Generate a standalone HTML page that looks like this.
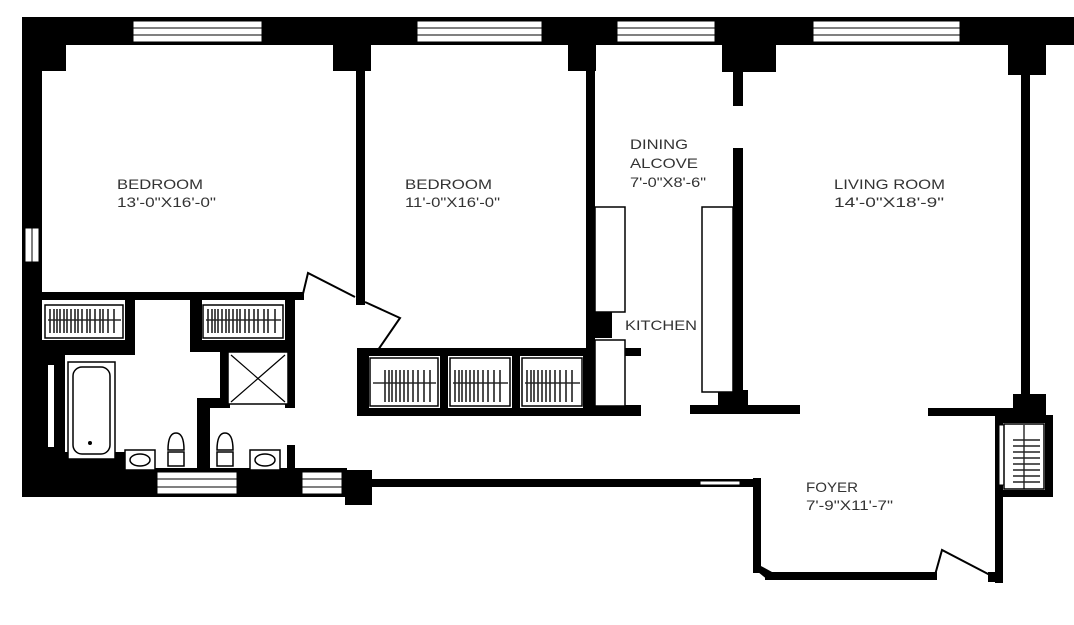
<!DOCTYPE html>
<html><head><meta charset="utf-8"><style>
html,body{margin:0;padding:0;background:#fff;width:1074px;height:625px;overflow:hidden}
text{font-family:"Liberation Sans",sans-serif;font-size:14px;fill:#333}
</style></head><body>
<svg width="1074" height="625" viewBox="0 0 1074 625" xmlns="http://www.w3.org/2000/svg">
<g fill="#000">
<rect x="22" y="17" width="1052" height="28"/>
<rect x="22" y="17" width="20" height="480"/>
<rect x="22" y="468" width="325" height="29"/>
<rect x="345" y="470" width="27" height="35"/>
<rect x="370" y="479" width="385" height="8"/>
<rect x="22" y="45" width="44" height="26"/>
<rect x="333" y="45" width="38" height="26"/>
<rect x="568" y="45" width="28" height="26"/>
<rect x="722" y="45" width="54" height="27"/>
<rect x="733" y="70" width="10" height="36"/>
<rect x="1008" y="45" width="38" height="30"/>
<rect x="356" y="70" width="9" height="235"/>
<rect x="586" y="70" width="9" height="340"/>
<rect x="733" y="148" width="10" height="248"/>
<rect x="1021" y="75" width="9" height="322"/>
<rect x="1013" y="394" width="33" height="22"/>
<rect x="718" y="390" width="30" height="22"/>
<rect x="690" y="405" width="110" height="9"/>
<rect x="928" y="408" width="102" height="8"/>
<rect x="586" y="405" width="55" height="10"/>
<rect x="22" y="292" width="282" height="8"/>
<rect x="357" y="348" width="284" height="8"/>
<rect x="357" y="348" width="12" height="68"/>
<rect x="357" y="408" width="284" height="8"/>
<rect x="440" y="348" width="8" height="68"/>
<rect x="512" y="348" width="8" height="68"/>
<rect x="583" y="348" width="10" height="68"/>
<rect x="40" y="340" width="95" height="15"/>
<rect x="125" y="298" width="10" height="57"/>
<rect x="190" y="298" width="12" height="52"/>
<rect x="190" y="340" width="105" height="12"/>
<rect x="285" y="298" width="10" height="110"/>
<rect x="197" y="398" width="13" height="72"/>
<rect x="210" y="398" width="20" height="10"/>
<rect x="220" y="350" width="10" height="55"/>
<rect x="40" y="355" width="25" height="100"/>
<rect x="40" y="452" width="85" height="18"/>
<rect x="237" y="470" width="65" height="27"/>
<rect x="287" y="445" width="8" height="25"/>
<rect x="753" y="478" width="8" height="95"/>
<rect x="765" y="572" width="172" height="8"/>
<rect x="995" y="415" width="8" height="168"/>
<rect x="988" y="572" width="14" height="10"/>
<rect x="995" y="415" width="58" height="8"/>
<rect x="1045" y="415" width="8" height="82"/>
<rect x="995" y="490" width="58" height="7"/>
</g>
<rect x="48" y="365" width="6" height="82" fill="#fff"/>
<polygon points="753,568 768,580 772,572 761,566" fill="#000"/>
<g fill="#fff" stroke="#000" stroke-width="1">
<rect x="133" y="21" width="129" height="21"/>
<rect x="417" y="21" width="125" height="21"/>
<rect x="617" y="21" width="98" height="21"/>
<rect x="813" y="21" width="147" height="21"/>
<rect x="25" y="228" width="14" height="34"/>
<rect x="157" y="472" width="80" height="22"/>
<rect x="302" y="472" width="40" height="22"/>
<rect x="700" y="481" width="40" height="4"/>
<rect x="999" y="425" width="5" height="60"/>
</g>
<g stroke="#000" stroke-width="1">
<line x1="133" y1="28" x2="262" y2="28"/><line x1="133" y1="35" x2="262" y2="35"/>
<line x1="417" y1="28" x2="542" y2="28"/><line x1="417" y1="35" x2="542" y2="35"/>
<line x1="617" y1="28" x2="715" y2="28"/><line x1="617" y1="35" x2="715" y2="35"/>
<line x1="813" y1="28" x2="960" y2="28"/><line x1="813" y1="35" x2="960" y2="35"/>
<line x1="157" y1="479" x2="237" y2="479"/><line x1="157" y1="487" x2="237" y2="487"/>
<line x1="302" y1="479" x2="342" y2="479"/><line x1="302" y1="487" x2="342" y2="487"/>
<line x1="32" y1="228" x2="32" y2="262"/>
</g>
<g fill="#fff" stroke="#000" stroke-width="1.5">
<rect x="45" y="305" width="78" height="33"/>
<rect x="203" y="305" width="80" height="33"/>
<rect x="370" y="358" width="68" height="48"/>
<rect x="450" y="358" width="60" height="48"/>
<rect x="522" y="358" width="60" height="48"/>
<rect x="1004" y="424" width="40" height="65"/>
</g>
<g stroke="#000" stroke-width="1.2">
<path d="M48 320H121M206 320H281M373 383H436M453 383H508M525 383H580M1024 425V489"/>
</g>
<g stroke="#222" stroke-width="1.6">
<path d="M50 309V333M54 309V333M57 309V333M60 309V333M64 309V333M67 309V333M71 309V333M75 309V333M78 309V333M82 309V333M87 309V333M90 309V333M95 309V333M100 309V333M103 309V333M108 309V333M114 309V333"/>
<path d="M208 309V333M212 309V333M215 309V333M218 309V333M222 309V333M226 309V333M229 309V333M233 309V333M237 309V333M240 309V333M245 309V333M249 309V333M254 309V333M258 309V333M264 309V333M268 309V333M275 309V333"/>
<path d="M385 370V402M389 370V402M392 370V402M396 370V402M400 370V402M404 370V402M408 370V402M413 370V402M418 370V402M424 370V402M430 370V402"/>
<path d="M455 370V402M459 370V402M462 370V402M466 370V402M470 370V402M474 370V402M478 370V402M483 370V402M488 370V402M494 370V402M500 370V402"/>
<path d="M527 370V402M531 370V402M534 370V402M538 370V402M542 370V402M546 370V402M550 370V402M555 370V402M560 370V402M566 370V402M572 370V402"/>
<path d="M1013 440H1040M1013 446H1040M1013 452H1040M1013 458H1040M1013 464H1040M1013 470H1040M1013 476H1040M1013 482H1040"/>
</g>
<g fill="#fff" stroke="#000" stroke-width="1.5">
<rect x="595" y="207" width="30" height="105"/>
<rect x="595" y="340" width="30" height="66"/>
<rect x="702" y="207" width="31" height="185"/>
</g>
<rect x="588" y="312" width="24" height="26" fill="#000"/>
<g fill="#fff" stroke="#000" stroke-width="1.5">
<rect x="68" y="362" width="47" height="97"/>
<rect x="73" y="367" width="37" height="87" rx="9"/>
<rect x="228" y="352" width="60" height="52"/>
<rect x="125" y="450" width="30" height="20"/>
<ellipse cx="140" cy="460" rx="10" ry="6"/>
<rect x="250" y="450" width="30" height="20"/>
<ellipse cx="265" cy="460" rx="10" ry="6"/>
<path d="M168 450 Q168 433 176 433 Q184 433 184 450 Z"/>
<rect x="168" y="452" width="16" height="14"/>
<path d="M217 450 Q217 433 225 433 Q233 433 233 450 Z"/>
<rect x="217" y="452" width="16" height="14"/>
</g>
<circle cx="90" cy="443" r="2" fill="#000"/>
<path d="M231 355L285 402M285 355L231 402" stroke="#000" stroke-width="1.2"/>
<g fill="none" stroke="#000" stroke-width="2">
<path d="M302 298 L308 273 L355 297"/>
<path d="M365 302 L400 318 L378 350"/>
<path d="M935 575 L942 550 L990 575"/>
</g>
<text x="117" y="189" textLength="86" lengthAdjust="spacingAndGlyphs">BEDROOM</text>
<text x="117" y="207" textLength="99" lengthAdjust="spacingAndGlyphs">13'-0"X16'-0"</text>
<text x="405" y="189" textLength="87" lengthAdjust="spacingAndGlyphs">BEDROOM</text>
<text x="405" y="207" textLength="95" lengthAdjust="spacingAndGlyphs">11'-0"X16'-0"</text>
<text x="630" y="149" textLength="58" lengthAdjust="spacingAndGlyphs">DINING</text>
<text x="630" y="168" textLength="68" lengthAdjust="spacingAndGlyphs">ALCOVE</text>
<text x="630" y="187" textLength="76" lengthAdjust="spacingAndGlyphs">7'-0"X8'-6"</text>
<text x="834" y="189" textLength="111" lengthAdjust="spacingAndGlyphs">LIVING ROOM</text>
<text x="834" y="207" textLength="110" lengthAdjust="spacingAndGlyphs">14'-0"X18'-9"</text>
<text x="625" y="330" textLength="72" lengthAdjust="spacingAndGlyphs">KITCHEN</text>
<text x="806" y="492" textLength="52" lengthAdjust="spacingAndGlyphs">FOYER</text>
<text x="806" y="510" textLength="87" lengthAdjust="spacingAndGlyphs">7'-9"X11'-7"</text>
</svg>
</body></html>
